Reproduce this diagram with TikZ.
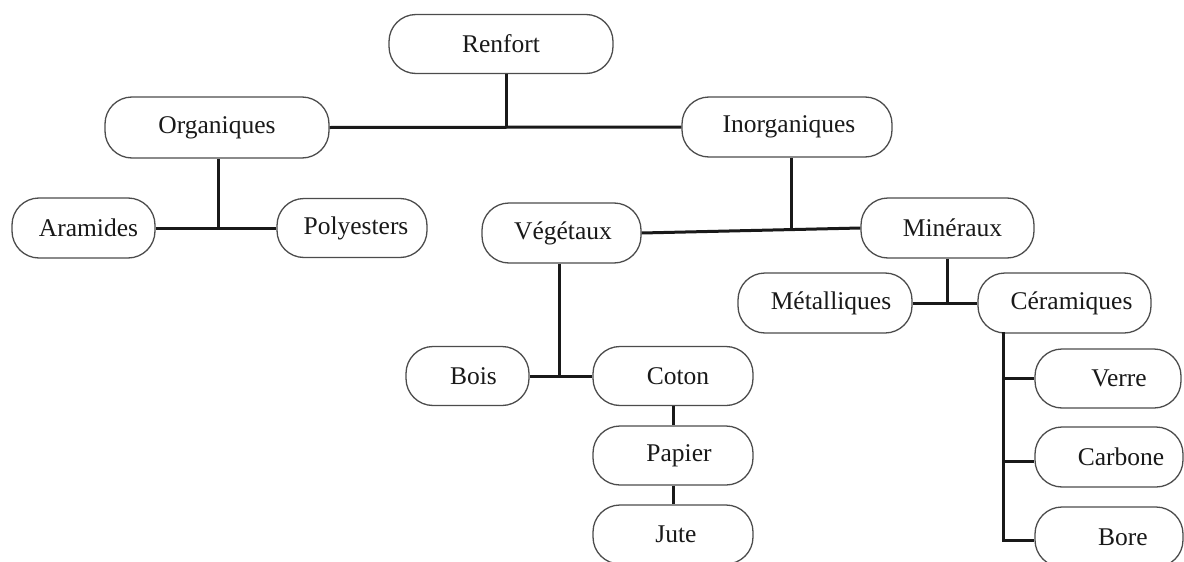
\documentclass[tikz,border=0pt]{standalone}
\usepackage{fontspec}
\setmainfont{Liberation Serif}
\begin{document}
\begin{tikzpicture}[x=1pt,y=-1pt,
  box/.style={draw=black!70,line width=1.3pt,rounded corners=27pt,fill=white,
    minimum height=59pt,inner sep=0pt,text=black!90,
    font=\fontsize{25.5}{28}\selectfont},
  link/.style={line width=3pt,black!90}]
\clip (0,0) rectangle (1184,562);
\useasboundingbox (0,0) rectangle (1184,562);
% nodes
\node[box,minimum width=224pt] (ren) at (501,44) {Renfort};
\node[box,minimum width=224pt,minimum height=61pt] (org) at (217,127.5) {Organiques};
\node[box,minimum width=210pt,minimum height=60pt] (ino) at (787,127) {\hspace*{4pt}Inorganiques};
\node[box,minimum width=143pt,minimum height=60pt] (ara) at (83.5,228) {\hspace*{10pt}Aramides};
\node[box,minimum width=150pt] (pol) at (352,228) {\hspace*{8pt}Polyesters};
\node[box,minimum width=159pt,minimum height=60pt] (veg) at (561.5,233) {\hspace*{3pt}Végétaux};
\node[box,minimum width=173pt,minimum height=60pt] (min) at (947.5,228) {\hspace*{10pt}Minéraux};
\node[box,minimum width=174pt,minimum height=60pt] (met) at (825,303) {\hspace*{12pt}Métalliques};
\node[box,minimum width=173pt,minimum height=60pt] (cer) at (1064.5,303) {\hspace*{14pt}Céramiques};
\node[box,minimum width=123pt] (boi) at (467.5,376) {\hspace*{12pt}Bois};
\node[box,minimum width=160pt] (cot) at (673,376) {\hspace*{10pt}Coton};
\node[box,minimum width=160pt] (pap) at (673,455.5) {\hspace*{12pt}Papier};
\node[box,minimum width=160pt] (jut) at (673,534.5) {\hspace*{6pt}Jute};
\node[box,minimum width=146pt] (ver) at (1108,378.5) {\hspace*{22pt}Verre};
\node[box,minimum width=148pt,minimum height=60pt] (car) at (1109,457) {\hspace*{24pt}Carbone};
\node[box,minimum width=148pt,minimum height=60pt] (bor) at (1109,537) {\hspace*{28pt}Bore};
% junction coordinates
\coordinate (j1) at (506,127);
\coordinate (j2) at (218,228);
\coordinate (j3) at (791,230);
\coordinate (j4) at (947,303);
\coordinate (j5) at (559,376);
\coordinate (t1) at (1003,333);
\coordinate (t2) at (1003,540);
\coordinate (t3) at (1003,461.5);
% connectors
\draw[link] (ren.south -| j1) -- (j1);
\draw[link] (org.east) -- (ino.west);
\draw[link] (org.south -| j2) -- (j2);
\draw[link] (ara.east) -- (pol.west);
\draw[link] (ino.south -| j3) -- (j3);
\draw[link] (veg.east) -- (min.west);
\draw[link] (min.south -| j4) -- (j4);
\draw[link] (met.east) -- (cer.west);
\draw[link] (veg.south -| j5) -- (j5);
\draw[link] (boi.east) -- (cot.west);
\draw[link] (cot.south) -- (pap.north);
\draw[link] (pap.south) -- (jut.north);
\draw[link,line cap=rect] (t1) -- (t2);
\draw[link] (t1 |- ver.west) -- (ver.west);
\draw[link] (t3) -- (car.west |- t3);
\draw[link] (t2) -- (bor.west |- t2);
\end{tikzpicture}
\end{document}
